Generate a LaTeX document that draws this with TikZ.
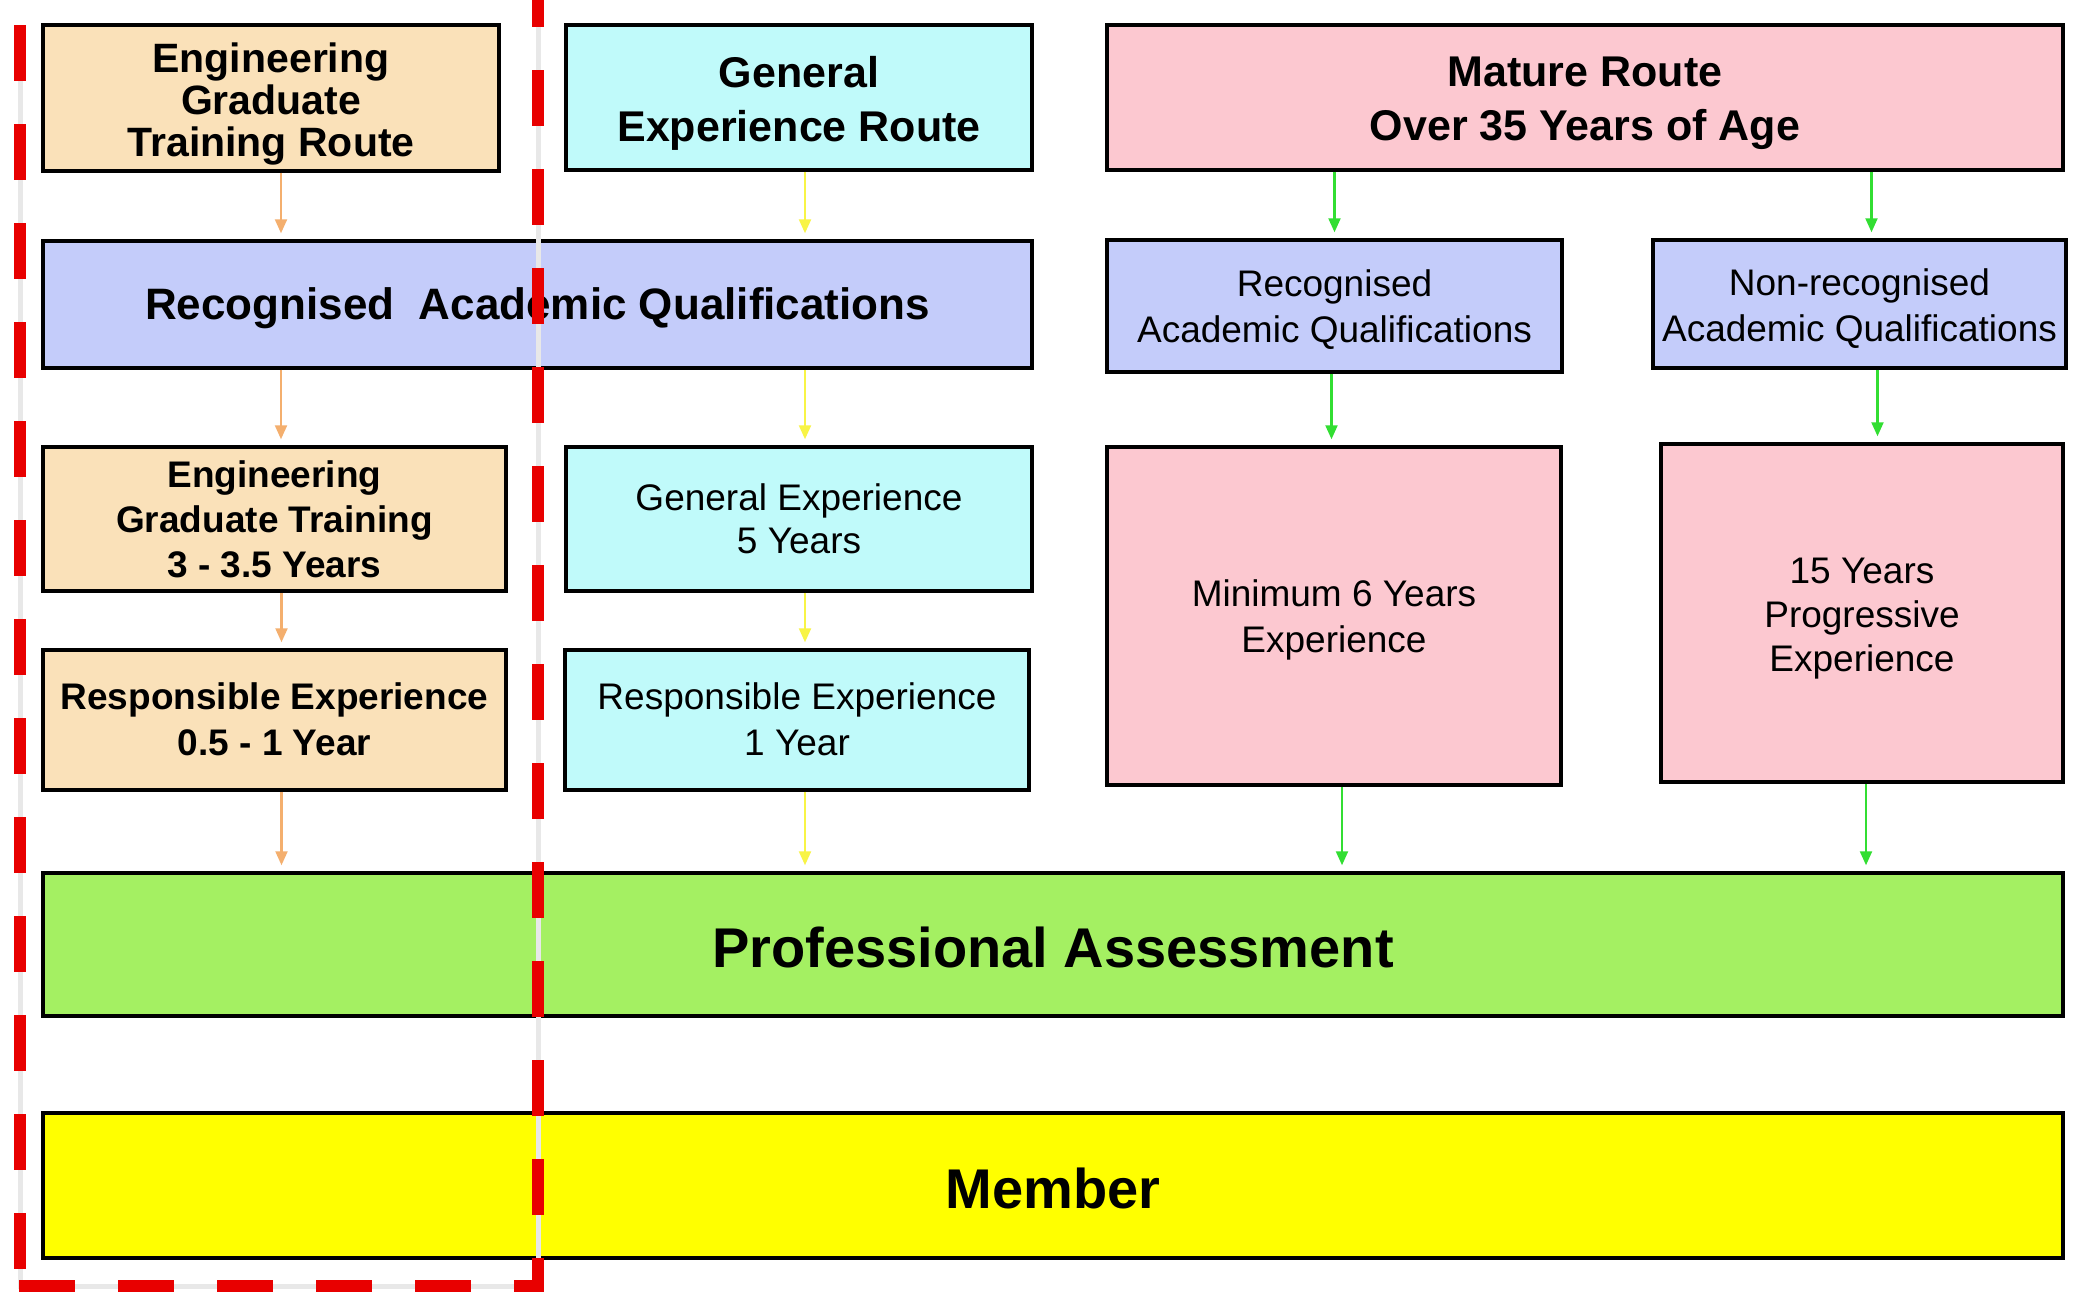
\documentclass[tikz,border=0pt]{standalone}
\usepackage{fontspec}
\setmainfont{Liberation Sans}
\usetikzlibrary{arrows.meta}
\definecolor{cWheat}{RGB}{250,225,185}
\definecolor{cCyan}{RGB}{192,250,250}
\definecolor{cPink}{RGB}{252,200,208}
\definecolor{cLav}{RGB}{196,204,250}
\definecolor{cGreen}{RGB}{164,240,98}
\definecolor{cYellow}{RGB}{255,255,0}
\definecolor{cRed}{RGB}{232,0,0}
\definecolor{aOrange}{RGB}{244,175,110}
\definecolor{aYellow}{RGB}{248,244,70}
\definecolor{aGreen}{RGB}{50,222,50}
\begin{document}
\begin{tikzpicture}[x=1pt,y=-1pt,
  box/.style={draw=black,line width=3.5pt,inner sep=0pt},
  tx/.style={align=center,inner sep=0pt},
  arr/.style={line width=2.2pt,shorten >=6pt,-{Triangle[length=14pt,width=12pt]}},
  oarr/.style={arr,draw=aOrange,fill=aOrange},
  yarr/.style={arr,draw=aYellow,fill=aYellow},
  garr/.style={arr,draw=aGreen,fill=aGreen},
  reddash/.style={draw=cRed,line width=12pt,dash pattern=on 56pt off 43pt},
  grayline/.style={draw=black!9,line width=5pt}]
\useasboundingbox (0,0) rectangle (2078,1293);
\fill[white] (0,0) rectangle (2078,1293);

% top row
\node[box,fill=cWheat,minimum width=456pt,minimum height=146pt,
  label={[tx,yshift=-6pt,font=\bfseries\fontsize{41}{42}\selectfont]center:{Engineering\\Graduate\\Training Route}}]
  (egtr) at (271,98) {};
\node[box,fill=cCyan,minimum width=466pt,minimum height=145pt,
  label={[tx,yshift=-6pt,font=\bfseries\fontsize{43}{54}\selectfont]center:{General\\Experience Route}}]
  (ger) at (799,97.5) {};
\node[box,fill=cPink,minimum width=956pt,minimum height=145pt,
  label={[tx,yshift=-6pt,font=\bfseries\fontsize{43}{54}\selectfont]center:{Mature Route\\Over 35 Years of Age}}]
  (mat) at (1585,97.5) {};

% second row
\node[box,fill=cLav,minimum width=989pt,minimum height=127pt,
  label={[tx,yshift=-4pt,font=\bfseries\fontsize{44}{50}\selectfont]center:{Recognised\ \ Academic Qualifications}}]
  (raq) at (537.5,304.5) {};
\node[box,fill=cLav,minimum width=455pt,minimum height=132pt,
  label={[tx,yshift=-4pt,font=\fontsize{37}{46}\selectfont]center:{Recognised\\Academic Qualifications}}]
  (raqb) at (1334.5,306) {};
\node[box,fill=cLav,minimum width=413pt,minimum height=128pt,
  label={[tx,yshift=-5pt,font=\fontsize{37}{46}\selectfont]center:{Non-recognised\\Academic Qualifications}}]
  (nraq) at (1859.5,304) {};

% third row
\node[box,fill=cWheat,minimum width=463pt,minimum height=144pt,
  label={[tx,font=\bfseries\fontsize{37}{45}\selectfont]center:{Engineering\\Graduate Training\\3 - 3.5 Years}}]
  (egt) at (274.5,519) {};
\node[box,fill=cCyan,minimum width=466pt,minimum height=144pt,
  label={[tx,font=\fontsize{37}{43}\selectfont]center:{General Experience\\5 Years}}]
  (ge5) at (799,519) {};
\node[box,fill=cPink,minimum width=454pt,minimum height=338pt,
  label={[tx,yshift=-4pt,font=\fontsize{37}{46}\selectfont]center:{Minimum 6 Years\\Experience}}]
  (min6) at (1334,616) {};
\node[box,fill=cPink,minimum width=402pt,minimum height=338pt,
  label={[tx,yshift=-6pt,font=\fontsize{37}{44}\selectfont]center:{15 Years\\Progressive\\Experience}}]
  (y15) at (1862,613) {};

% fourth row
\node[box,fill=cWheat,minimum width=463pt,minimum height=140pt,
  label={[tx,yshift=1pt,font=\bfseries\fontsize{37}{46}\selectfont]center:{Responsible Experience\\0.5 - 1 Year}}]
  (re05) at (274.5,720) {};
\node[box,fill=cCyan,minimum width=464pt,minimum height=140pt,
  label={[tx,yshift=1pt,font=\fontsize{37}{46}\selectfont]center:{Responsible Experience\\1 Year}}]
  (re1) at (797,720) {};

% bottom rows
\node[box,fill=cGreen,minimum width=2020pt,minimum height=143pt,
  label={[tx,yshift=-3pt,font=\bfseries\fontsize{56}{60}\selectfont]center:{Professional Assessment}}]
  (pa) at (1053,944.5) {};
\node[box,fill=cYellow,minimum width=2020pt,minimum height=145pt,
  label={[tx,yshift=-3pt,font=\bfseries\fontsize{56}{60}\selectfont]center:{Member}}]
  (mem) at (1053,1185.5) {};

% arrows: engineering column (orange)
\draw[oarr] ([xshift=10pt]egtr.south) -- ([xshift=10pt]egtr.south |- raq.north);
\draw[oarr] ([xshift=10pt]egtr.south |- raq.south) -- ([xshift=10pt]egtr.south |- egt.north);
\draw[oarr] ([xshift=7pt]egt.south) -- ([xshift=7pt]egt.south |- re05.north);
\draw[oarr] ([xshift=7pt]re05.south) -- ([xshift=7pt]re05.south |- pa.north);
% general column (yellow)
\draw[yarr] ([xshift=6pt]ger.south) -- ([xshift=6pt]ger.south |- raq.north);
\draw[yarr] ([xshift=6pt]ger.south |- raq.south) -- ([xshift=6pt]ge5.north);
\draw[yarr] ([xshift=6pt]ge5.south) -- ([xshift=6pt]ge5.south |- re1.north);
\draw[yarr] ([xshift=8pt]re1.south) -- ([xshift=8pt]re1.south |- pa.north);
% mature column (green)
\draw[garr] (raqb.north |- mat.south) -- (raqb.north);
\draw[garr] ([xshift=12pt]nraq.north |- mat.south) -- ([xshift=12pt]nraq.north);
\draw[garr] ([xshift=-3pt]raqb.south) -- ([xshift=-3pt]raqb.south |- min6.north);
\draw[garr] ([xshift=18pt]nraq.south) -- ([xshift=18pt]nraq.south |- y15.north);
\draw[garr] ([xshift=8pt]min6.south) -- ([xshift=8pt]min6.south |- pa.north);
\draw[garr] ([xshift=4pt]y15.south) -- ([xshift=4pt]y15.south |- pa.north);

% red dashed frame
\coordinate (fTR) at (538,-29);
\coordinate (fBR) at (538,1286);
\coordinate (fBL) at (20,1286);
\coordinate (fTL) at (20,25);
\draw[grayline] (fTR) -- (fBR) -- (fBL) -- (fTL);
\draw[reddash] (fTR) -- ([yshift=-6pt]fBR);
\draw[reddash] (fTL) -- ([yshift=-6pt]fBL);
\draw[reddash] ([xshift=-1pt]fBL) -- ([xshift=6pt]fBR);
\end{tikzpicture}
\end{document}
